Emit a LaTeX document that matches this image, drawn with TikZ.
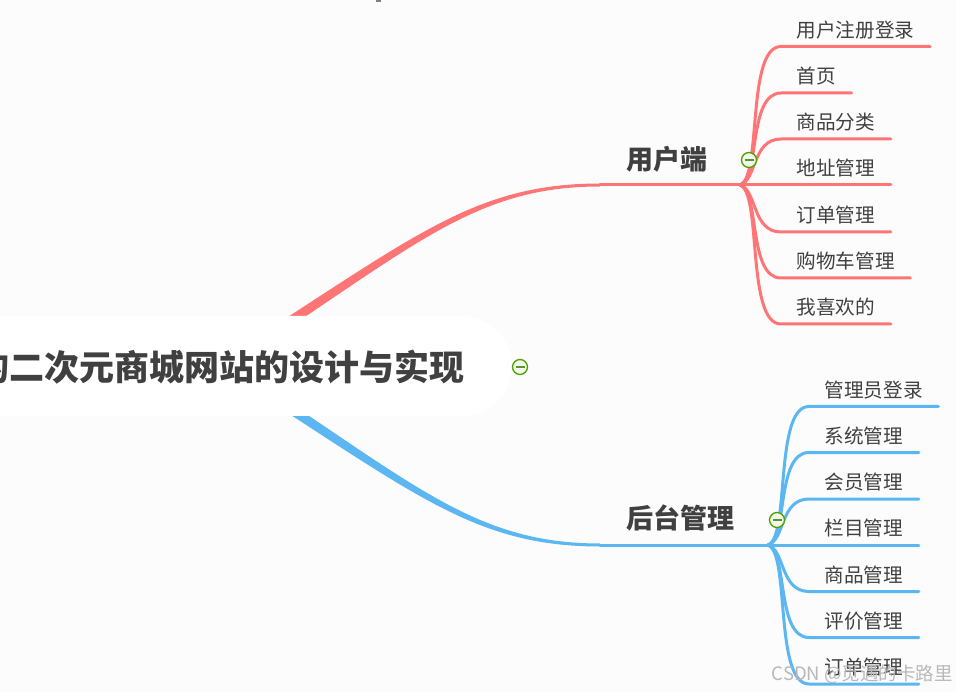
\documentclass[tikz,border=0pt]{standalone}
\usepackage{fontspec}
\setmainfont{Noto Sans CJK SC}
\usetikzlibrary{positioning}
\definecolor{usercolor}{HTML}{FF7575}
\definecolor{admincolor}{HTML}{5CB6F2}
\definecolor{inkcolor}{HTML}{404040}
\definecolor{pagecolor}{HTML}{FCFCFC}
\definecolor{iconcolor}{HTML}{4DA000}
\tikzstyle{root} = [
    fill=white,
    rounded corners=50pt,
    minimum height=100pt,
    minimum width=620pt,
    inner sep=0pt
]
\tikzstyle{branch} = [inkcolor, inner sep=0pt, font=\fontsize{27}{30}\selectfont\bfseries]
\tikzstyle{leaf} = [
    inkcolor,
    minimum height=33pt,
    inner xsep=15.5pt,
    inner ysep=0pt,
    font=\fontsize{19.6}{22}\selectfont
]
\tikzstyle{twig} = [line width=3pt, line cap=round]
\tikzstyle{collapse} = [
    draw=iconcolor,
    line width=1.3pt,
    circle,
    minimum width=15pt,
    inner sep=0pt,
    fill=iconcolor!8,
    append after command={%
        (\tikzlastnode.center) ++(-4.5pt, 0) edge [iconcolor!70!gray, line width=1.5pt, draw] ++(9pt, 0)%
    }
]
\begin{document}
\begin{tikzpicture}[x=1pt, y=-1pt]
    \useasboundingbox (0, 0) rectangle (956, 692);
    \clip (0, 0) rectangle (956, 692);
    \fill [pagecolor] (0, 0) rectangle (956, 692);
    \fill [gray] (376, 0) rectangle (381, 2);

    % Nodes.
    \coordinate (user start) at (260, 341);
    \coordinate (admin start) at (260, 389);
    \coordinate (user hub) at (740, 185);
    \coordinate (admin hub) at (768, 545);
    \coordinate (user bend) at (600, 185);
    \coordinate (admin bend) at (600, 545);

    \node (user label) [branch, anchor=west] at (626, 159) {用户端};
    \node (admin label) [branch, anchor=west] at (626, 518) {后台管理};

    \node (user login) [leaf, anchor=south west] at (781, 46.5) {用户注册登录};
    \node (home) [leaf, anchor=south west] at (781, 93) {首页};
    \node (category) [leaf, anchor=south west] at (781, 139) {商品分类};
    \node (address) [leaf, anchor=south west] at (781, 185) {地址管理};
    \node (user order) [leaf, anchor=south west] at (781, 232) {订单管理};
    \node (cart) [leaf, anchor=south west] at (781, 278) {购物车管理};
    \node (favourite) [leaf, anchor=south west] at (781, 324) {我喜欢的};

    \node (admin login) [leaf, anchor=south west] at (809, 406.5) {管理员登录};
    \node (system) [leaf, anchor=south west] at (809, 452.5) {系统管理};
    \node (member) [leaf, anchor=south west] at (809, 499) {会员管理};
    \node (column) [leaf, anchor=south west] at (809, 545) {栏目管理};
    \node (goods) [leaf, anchor=south west] at (809, 591.5) {商品管理};
    \node (review) [leaf, anchor=south west] at (809, 637.5) {评价管理};
    \node (admin order) [leaf, anchor=south west] at (809, 684) {订单管理};

    % Paths.

    % Main branches.
    \fill [usercolor] ([yshift=6pt]user start)
        .. controls (420, 232) and (480, 183.5) .. ([yshift=1.5pt]user bend)
        -- ([yshift=-1.5pt]user bend)
        .. controls (480, 186.5) and (420, 241) .. ([yshift=-6pt]user start) -- cycle;
    \fill [admincolor] ([yshift=-6pt]admin start)
        .. controls (420, 498) and (480, 546.5) .. ([yshift=-1.5pt]admin bend)
        -- ([yshift=1.5pt]admin bend)
        .. controls (480, 543.5) and (420, 489) .. ([yshift=6pt]admin start) -- cycle;
    \draw [usercolor, twig] (user bend) -- (user hub);
    \draw [admincolor, twig] (admin bend) -- (admin hub);

    % User side.
    \draw [usercolor, twig] (user hub) .. controls (762, 178) and (746, 46.5) .. (user login.south west) -- (user login.south east);
    \draw [usercolor, twig] (user hub) .. controls (760, 178) and (748, 93) .. (home.south west) -- (home.south east);
    \draw [usercolor, twig] (user hub) .. controls (757, 180) and (752, 139) .. (category.south west) -- (category.south east);
    \draw [usercolor, twig] (user hub) -- (address.south west) -- (address.south east);
    \draw [usercolor, twig] (user hub) .. controls (757, 190) and (752, 232) .. (user order.south west) -- (user order.south east);
    \draw [usercolor, twig] (user hub) .. controls (760, 192) and (748, 278) .. (cart.south west) -- (cart.south east);
    \draw [usercolor, twig] (user hub) .. controls (762, 192) and (746, 324) .. (favourite.south west) -- (favourite.south east);

    % Admin side.
    \draw [admincolor, twig] (admin hub) .. controls (790, 538) and (774, 406.5) .. (admin login.south west) -- (admin login.south east);
    \draw [admincolor, twig] (admin hub) .. controls (788, 538) and (776, 452.5) .. (system.south west) -- (system.south east);
    \draw [admincolor, twig] (admin hub) .. controls (785, 540) and (780, 499) .. (member.south west) -- (member.south east);
    \draw [admincolor, twig] (admin hub) -- (column.south west) -- (column.south east);
    \draw [admincolor, twig] (admin hub) .. controls (785, 550) and (780, 591.5) .. (goods.south west) -- (goods.south east);
    \draw [admincolor, twig] (admin hub) .. controls (788, 552) and (776, 637.5) .. (review.south west) -- (review.south east);
    \draw [admincolor, twig] (admin hub) .. controls (790, 552) and (774, 684) .. (admin order.south west) -- (admin order.south east);

    % Root on top of the branches.
    \node (root box) [root, anchor=east] at (512, 366) {};
    \node (root) [inkcolor, anchor=east, inner sep=0pt, font=\fontsize{35}{38}\selectfont\bfseries] at (465, 367) {的二次元商城网站的设计与实现};

    % Icons.
    \node (root icon) [collapse] at (520, 367) {};
    \node (user icon) [collapse] at (749, 160) {};
    \node (admin icon) [collapse] at (777, 520) {};

    % Watermark.
    \node (watermark) [anchor=east, inner sep=0pt, gray!55, font=\fontsize{18.5}{20}\selectfont] at (953, 674) {CSDN @觅遇的卡路里};
\end{tikzpicture}
\end{document}
